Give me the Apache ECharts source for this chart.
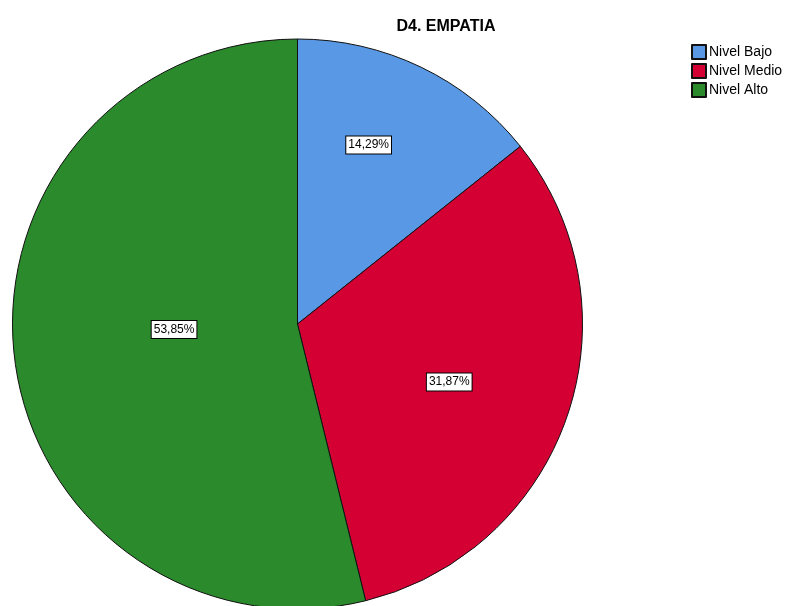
<!DOCTYPE html>
<html><head><meta charset="utf-8">
<script src="https://cdn.jsdelivr.net/npm/echarts@6/dist/echarts.min.js"></script>
<style>html,body{margin:0;padding:0;background:#fff}#c{width:794px;height:606px}</style>
</head><body><div id="c"></div>
<script>
var title = 'D4. EMPATIA';
var categories = ['Nivel Bajo', 'Nivel Medio', 'Nivel Alto'];
var values = [14.29, 31.87, 53.85];
var colors = ['#5898e4', '#d40034', '#2a8a2c'];
var labelOffsets = [[8, -48], [14, 11], [21, -12]];

var chart = echarts.init(document.getElementById('c'), null, {renderer: 'canvas'});
chart.setOption({
  animation: false,
  backgroundColor: '#fff',
  title: {
    text: title, left: 441, top: 14, textAlign: 'center',
    textStyle: {fontFamily: 'Liberation Sans, Arial', fontSize: 16, fontWeight: 'bold', color: '#000'}
  },
  legend: {
    orient: 'vertical', left: 691, top: 44, padding: 0,
    icon: 'rect', itemWidth: 14, itemHeight: 14, itemGap: 3,
    textStyle: {fontFamily: 'Liberation Sans, Arial', fontSize: 14, color: '#000', padding: [0,0,0,-2]},
    data: categories
  },
  series: [{
    type: 'pie',
    center: [297.5, 324],
    radius: [0, 285],
    startAngle: 90,
    clockwise: true,
    silent: true,
    itemStyle: {borderColor: '#111', borderWidth: 1},
    labelLine: {show: false},
    data: categories.map(function (c, i) {
      return {
        name: c, value: values[i],
        itemStyle: {color: colors[i]},
        label: {offset: labelOffsets[i]}
      };
    }),
    label: {
      show: true, position: 'inside',
      formatter: function (p) { return p.value.toFixed(2).replace('.', ',') + '%'; },
      fontFamily: 'Liberation Sans, Arial', fontSize: 12, color: '#000',
      backgroundColor: '#fff', borderColor: '#000', borderWidth: 1,
      padding: [3, 2, 2, 2]
    }
  }]
});
</script></body></html>
